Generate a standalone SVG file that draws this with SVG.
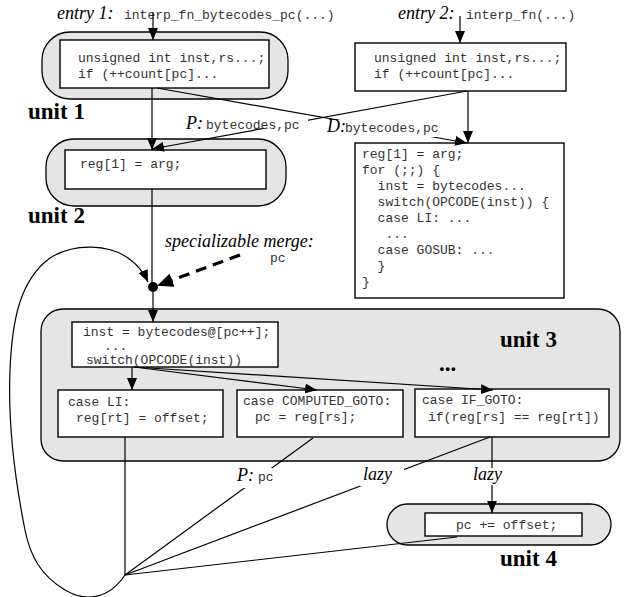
<svg xmlns="http://www.w3.org/2000/svg" width="624" height="597" viewBox="0 0 624 597">
<style>
.unit{fill:#e5e5e5;stroke:#000;stroke-width:1.3}
.box{fill:#fff;stroke:#000;stroke-width:1.4}
.code{font-family:"Liberation Mono",monospace;font-size:13px;fill:#333}
.it{font-family:"Liberation Serif",serif;font-style:italic;font-size:18px;fill:#000}
.ul{font-family:"Liberation Serif",serif;font-weight:bold;font-size:23px;fill:#000}
.ln{fill:none;stroke:#000;stroke-width:1.2}
.mask{fill:#fff}
</style>
<defs>
<marker id="ah" markerUnits="userSpaceOnUse" markerWidth="12" markerHeight="10" refX="12" refY="5" orient="auto">
<path d="M0,0 L12,5 L0,10 z" fill="#000"/>
</marker>
<marker id="ahb" markerUnits="userSpaceOnUse" markerWidth="16" markerHeight="14" refX="14" refY="7" orient="auto">
<path d="M0,0 L16,7 L0,14 z" fill="#000"/>
</marker>
</defs>
<rect width="624" height="597" fill="#fff"/>

<g id="unit1">
<rect class="unit" x="42" y="32" width="246" height="67" rx="28"/>
<rect class="box" x="60" y="40" width="209" height="48"/>
<text class="code" x="78" y="62" xml:space="preserve">unsigned int inst,rs...;</text>
<text class="code" x="78" y="78">if (++count[pc]...</text>
<text class="ul" x="28" y="119">unit 1</text>
</g>

<g id="unit2">
<rect class="unit" x="46" y="139" width="240" height="67" rx="28"/>
<rect class="box" x="65" y="150" width="201" height="39"/>
<text class="code" x="80" y="168">reg[1] = arg;</text>
<text class="ul" x="28" y="223">unit 2</text>
</g>

<g id="entry1">
<text class="it" x="57" y="19">entry 1:</text>
<text class="code" x="124" y="19">interp_fn_bytecodes_pc(...)</text>
</g>

<g id="entry2">
<text class="it" x="398" y="19">entry 2:</text>
<text class="code" x="466" y="19">interp_fn(...)</text>
<rect class="box" x="355" y="43" width="211" height="48"/>
<text class="code" x="374" y="62">unsigned int inst,rs...;</text>
<text class="code" x="374" y="78">if (++count[pc]...</text>
</g>

<g id="bigbox">
<rect class="box" x="355" y="143" width="209" height="155"/>
<text class="code" x="362" y="158" xml:space="preserve">reg[1] = arg;</text>
<text class="code" x="362" y="174" xml:space="preserve">for (;;) {</text>
<text class="code" x="362" y="190" xml:space="preserve">  inst = bytecodes...</text>
<text class="code" x="362" y="206" xml:space="preserve">  switch(OPCODE(inst)) {</text>
<text class="code" x="362" y="222" xml:space="preserve">  case LI: ...</text>
<text class="code" x="362" y="238" xml:space="preserve">   ...</text>
<text class="code" x="362" y="254" xml:space="preserve">  case GOSUB: ...</text>
<text class="code" x="362" y="270" xml:space="preserve">  }</text>
<text class="code" x="362" y="286" xml:space="preserve">}</text>
</g>

<g id="unit3">
<rect class="unit" x="41" y="309" width="579" height="152" rx="22"/>
<rect class="box" x="72" y="322" width="206" height="45"/>
<text class="code" x="83" y="336">inst = bytecodes@[pc++];</text>
<text class="code" x="104" y="350">...</text>
<text class="code" x="86" y="364">switch(OPCODE(inst))</text>
<text class="ul" x="500" y="347">unit 3</text>
<text class="ul" x="439" y="371">...</text>
</g>

<g id="caseLI">
<rect class="box" x="58" y="390" width="165" height="47"/>
<text class="code" x="68" y="406">case LI:</text>
<text class="code" x="76" y="422">reg[rt] = offset;</text>
</g>

<g id="caseCG">
<rect class="box" x="237" y="390" width="166" height="47"/>
<text class="code" x="243" y="405">case COMPUTED_GOTO:</text>
<text class="code" x="255" y="421">pc = reg[rs];</text>
</g>

<g id="caseIF">
<rect class="box" x="415" y="389" width="194" height="48"/>
<text class="code" x="422" y="404">case IF_GOTO:</text>
<text class="code" x="428" y="421">if(reg[rs] == reg[rt])</text>
</g>

<g id="unit4">
<rect class="unit" x="387" y="504" width="224" height="41" rx="20.5"/>
<rect class="box" x="425" y="513" width="157" height="23"/>
<text class="code" x="456" y="529">pc += offset;</text>
<text class="ul" x="500" y="566">unit 4</text>
</g>

<g id="connectors">
<line class="ln" x1="153" y1="12" x2="153" y2="40" marker-end="url(#ah)"/>
<line class="ln" x1="460" y1="16" x2="460" y2="43" marker-end="url(#ah)"/>
<line class="ln" x1="152" y1="88" x2="152" y2="150" marker-end="url(#ah)"/>
<line class="ln" x1="467" y1="91" x2="152" y2="149" marker-end="url(#ah)"/>
<line class="ln" x1="157" y1="88" x2="467" y2="143" marker-end="url(#ah)"/>
<line class="ln" x1="468" y1="91" x2="468" y2="143" marker-end="url(#ah)"/>
<rect class="mask" x="183" y="115" width="125" height="13"/>
<rect class="mask" x="326" y="120" width="116" height="17"/>
<text class="it" x="186" y="129">P:</text>
<text class="code" x="206" y="129">bytecodes,pc</text>
<text class="it" x="327" y="132">D:</text>
<text class="code" x="345" y="132">bytecodes,pc</text>

<line class="ln" x1="152" y1="189" x2="152" y2="284"/>
<circle cx="153" cy="287" r="5" fill="#000"/>
<line class="ln" x1="153" y1="292" x2="153" y2="322" marker-end="url(#ah)"/>
<line x1="240" y1="255" x2="159" y2="285" stroke="#000" stroke-width="3.2" stroke-dasharray="11,7" marker-end="url(#ahb)"/>
<text class="it" x="165" y="247">specializable merge:</text>
<text class="code" x="270" y="262">pc</text>
<path class="ln" d="M125,575 C108,600 85,602 65,590 C40,575 30,555 25,530 C15,480 8,420 10,370 C12,320 20,280 50,258 C75,242 110,245 128,258 C138,265 144,273 148,282" marker-end="url(#ah)"/>

<line class="ln" x1="132" y1="367" x2="132" y2="390" marker-end="url(#ah)"/>
<line class="ln" x1="134" y1="367" x2="317" y2="390" marker-end="url(#ah)"/>
<line class="ln" x1="134" y1="367" x2="493" y2="390" marker-end="url(#ah)"/>

<line class="ln" x1="125" y1="437" x2="125" y2="575"/>
<line class="ln" x1="313" y1="438" x2="125" y2="575"/>
<line class="ln" x1="490" y1="437" x2="125" y2="575"/>
<line class="ln" x1="457" y1="537" x2="125" y2="575"/>
<line class="ln" x1="492" y1="437" x2="492" y2="468"/>
<line class="ln" x1="492" y1="485" x2="492" y2="513" marker-end="url(#ah)"/>
<rect class="mask" x="235" y="468" width="44" height="20"/>
<rect class="mask" x="360" y="466" width="44" height="20"/>
<text class="it" x="237" y="481">P:</text>
<text class="code" x="258" y="481">pc</text>
<text class="it" x="363" y="480">lazy</text>
<text class="it" x="473" y="480">lazy</text>
</g>
</svg>
